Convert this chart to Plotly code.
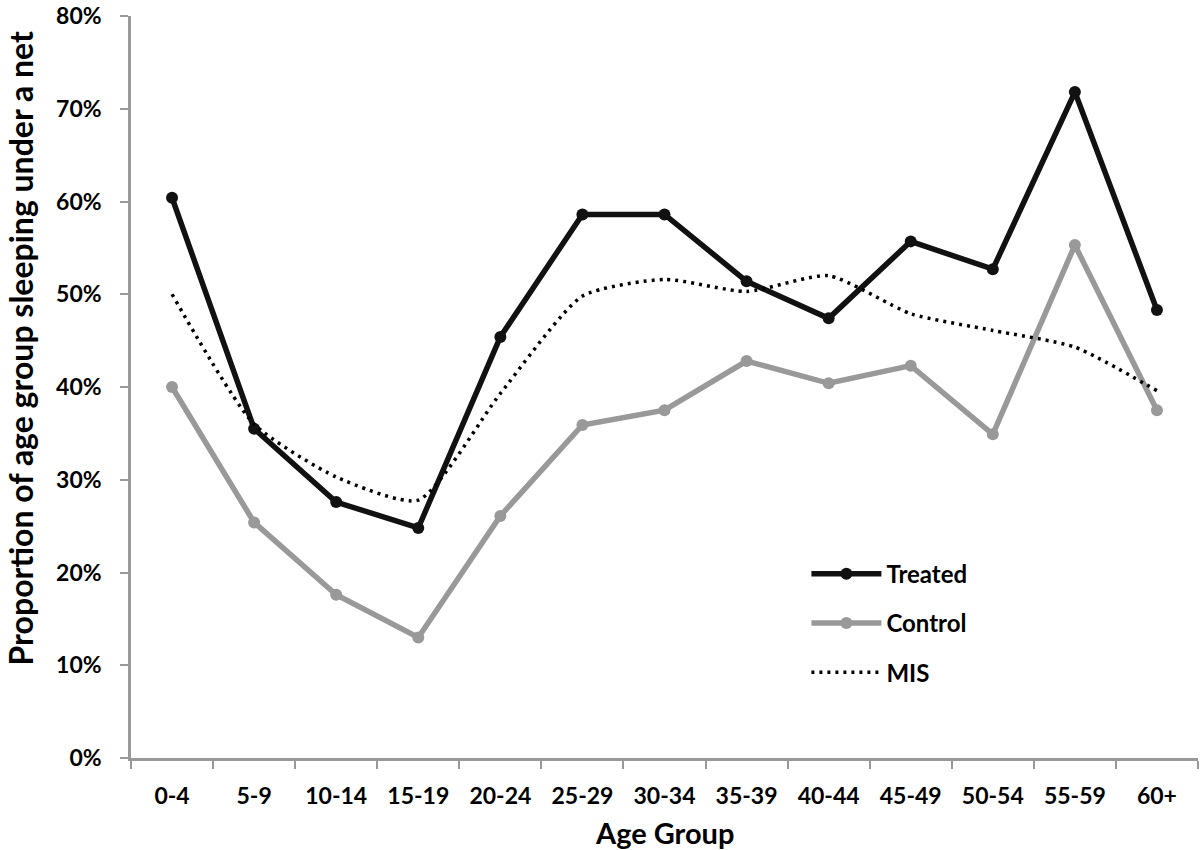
import plotly.graph_objects as go

age_groups = ["0-4", "5-9", "10-14", "15-19", "20-24", "25-29", "30-34",
              "35-39", "40-44", "45-49", "50-54", "55-59", "60+"]
treated = [0.604, 0.355, 0.276, 0.248, 0.454, 0.586, 0.586, 0.514, 0.474, 0.557, 0.527, 0.718, 0.483]
control = [0.400, 0.254, 0.176, 0.130, 0.261, 0.359, 0.375, 0.428, 0.404, 0.423, 0.349, 0.553, 0.375]
mis = [0.500, 0.360, 0.303, 0.278, 0.393, 0.498, 0.516, 0.503, 0.520, 0.479, 0.461, 0.443, 0.396]
y_ticks = [0, 0.1, 0.2, 0.3, 0.4, 0.5, 0.6, 0.7, 0.8]

FONT = "Lato"

fig = go.Figure()
fig.add_trace(go.Scatter(
    x=age_groups, y=treated, name="Treated", mode="lines+markers", legendgroup="t",
    line=dict(color="#111111", width=5.5), marker=dict(size=12, color="#111111")))
fig.add_trace(go.Scatter(
    x=age_groups, y=control, name="Control", mode="lines+markers", legendgroup="c",
    line=dict(color="#999999", width=5.5), marker=dict(size=12, color="#999999")))
fig.add_trace(go.Scatter(
    x=age_groups, y=mis, name="MIS", mode="lines", legendgroup="m",
    line=dict(color="#000000", width=3.5, dash="3px,5px", shape="spline", smoothing=0.6)))

fig.update_layout(
    width=1200, height=850,
    margin=dict(l=131, r=2, t=16, b=92),
    paper_bgcolor="white", plot_bgcolor="white",
    font=dict(family=FONT, color="black", size=20),
    showlegend=True,
    legend=dict(x=0.633, y=0.278, xanchor="left", yanchor="top",
                font=dict(family=FONT, size=24, color="black", weight="bold"),
                bgcolor="rgba(0,0,0,0)", tracegroupgap=15, itemwidth=70),
    xaxis=dict(
        type="category", range=[-0.5, 12.5], automargin=False,
        showline=True, linecolor="#999999", linewidth=2.5,
        ticks="outside", ticklen=8, tickcolor="#999999", tickwidth=2,
        tickson="boundaries", showgrid=False, zeroline=False, ticklabelstandoff=16,
        tickfont=dict(family=FONT, size=23, color="black", weight="bold"),
    ),
    yaxis=dict(
        range=[0, 0.8], tickmode="array", tickvals=y_ticks, tickformat=".0%",
        automargin=False, ticklabeloverflow="allow",
        showline=True, linecolor="#999999", linewidth=2.5,
        ticks="outside", ticklen=8, tickcolor="#999999", tickwidth=2,
        showgrid=False, zeroline=False, ticklabelstandoff=14,
        tickfont=dict(family=FONT, size=23, color="black", weight="bold"),
    ),
    annotations=[
        dict(text="Age Group", xref="paper", yref="paper", x=0.5, y=-0.1,
             xanchor="center", yanchor="middle", showarrow=False,
             font=dict(family=FONT, size=29, color="black", weight="bold")),
        dict(text="Proportion of age group sleeping under a net", xref="paper", yref="paper",
             x=-0.104, y=0.552, xanchor="center", yanchor="middle", textangle=-90,
             showarrow=False,
             font=dict(family=FONT, size=32, color="black", weight="bold")),
    ],
)

fig.write_html("out.html", config={"displayModeBar": False},
               post_script="document.body.style.margin='0';document.body.style.padding='0';")
